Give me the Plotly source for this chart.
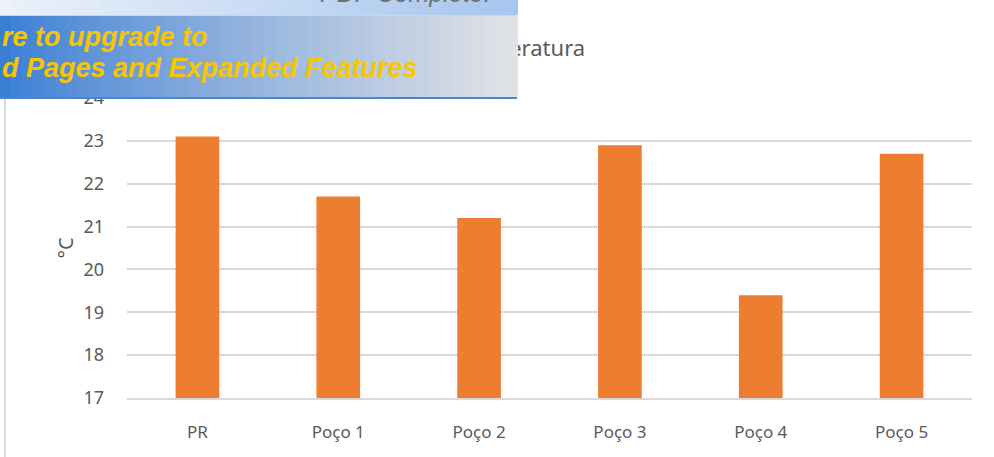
import plotly.graph_objects as go

# dados
locais = ["PR", "Poço 1", "Poço 2", "Poço 3", "Poço 4", "Poço 5"]
temperatura = [23.1, 21.7, 21.2, 22.9, 19.4, 22.7]

W, H = 994, 457
L, R, T, B = 127, 22, 98, 59
PW, PH = W - L - R, H - T - B


def px(x):
    return (x - L) / PW


def py(y):
    return (H - B - y) / PH


fig = go.Figure()
fig.add_trace(go.Bar(x=locais, y=temperatura, marker_color="#ED7D31",
                     marker_line_width=0, width=0.31))

shapes = []
annotations = []

# borda da área do gráfico
shapes.append(dict(type="line", xref="paper", yref="paper", x0=px(5), x1=px(5),
                   y0=py(0), y1=py(457), line=dict(color="#d9d9d9", width=2), layer="below"))

# título como anotação, para ficar por baixo da faixa
annotations.append(dict(text="Temperatura", xref="paper", yref="paper", x=px(518), y=py(47),
                        xanchor="center", yanchor="middle", showarrow=False,
                        font=dict(size=22, color="#595959")))

fig.update_layout(
    width=W, height=H,
    margin=dict(l=L, r=R, t=T, b=B),
    paper_bgcolor="white", plot_bgcolor="white",
    font=dict(family="Noto Sans", color="#595959", size=17),
    showlegend=False,
    xaxis=dict(showgrid=False, showline=True, linecolor="#d9d9d9", linewidth=1.5,
               ticks="", tickfont=dict(size=17), ticklabelstandoff=18),
    yaxis=dict(range=[17, 24], dtick=1, showgrid=True, gridcolor="#d9d9d9", gridwidth=1.5,
               zeroline=False, showline=False, ticks="", ticklabelstandoff=22,
               tickfont=dict(size=18),
               title=dict(text="°C", standoff=4, font=dict(size=20))),
)

# faixa sobreposta (banner do PDF), feita com caixas de anotação
n = 47
bw = 517 / n


def mix(c1, c2, t):
    return "rgb(%d,%d,%d)" % tuple(round(a + (b - a) * t) for a, b in zip(c1, c2))


def caixa(x0, y0, w, h, cor):
    return dict(text=" ", xref="paper", yref="paper", x=px(x0), y=py(y0),
                xanchor="left", yanchor="top", showarrow=False, width=w, height=h,
                borderpad=0, borderwidth=0, bgcolor=cor, font=dict(size=4))


for i in range(n):
    t = i / (n - 1)
    x0 = i * bw
    annotations.append(caixa(x0, 0, bw + 1, 15, mix((236, 241, 250), (166, 198, 238), t)))
    annotations.append(caixa(x0, 16, bw + 1, 81, mix((58, 126, 212), (224, 226, 230), t ** 0.85)))
annotations.append(caixa(0, 15, 517, 1, "#c8d6ea"))
annotations.append(caixa(0, 97, 517, 2, "#4a86cc"))

annotations.append(dict(text="<i>PDF Complete.</i>", xref="paper", yref="paper", x=px(318), y=py(-7),
                        xanchor="left", yanchor="middle", showarrow=False,
                        font=dict(family="Liberation Sans", size=25, color="#707070")))
for txt, yy in [("re to upgrade to", 37), ("d Pages and Expanded Features", 68)]:
    annotations.append(dict(text="<b><i>" + txt + "</i></b>", xref="paper", yref="paper",
                            x=px(0), y=py(yy), xanchor="left", yanchor="middle", showarrow=False,
                            font=dict(family="Liberation Sans", size=27, color="#f7c600")))

fig.update_layout(shapes=shapes, annotations=annotations)

# a página não deve ter margem no corpo
fig.write_html("out.html", config={"displayModeBar": False},
               post_script="document.body.style.margin='0';")
